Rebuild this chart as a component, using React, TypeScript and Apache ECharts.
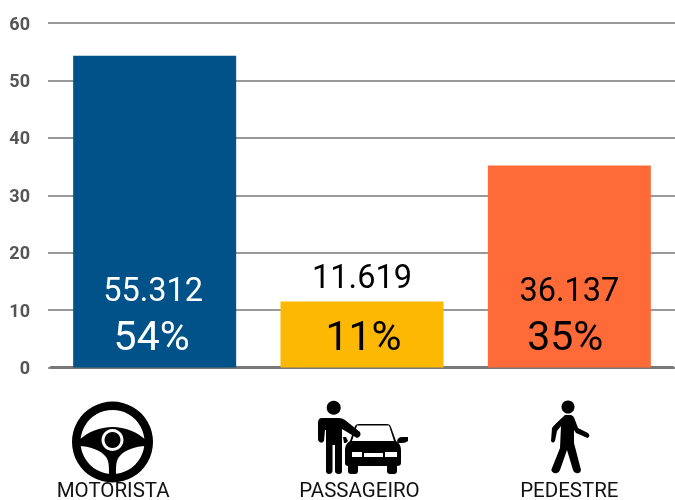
import React, { useEffect, useRef } from "react";
import * as echarts from "echarts";

const categories = ["MOTORISTA", "PASSAGEIRO", "PEDESTRE"];
const values = [54.3, 11.5, 35.2];
const counts = ["55.312", "11.619", "36.137"];
const percents = ["54%", "11%", "35%"];
const barColors = ["#005288", "#FCB802", "#FF6A39"];
const labelColors = ["#ffffff", "#000000", "#000000"];
const yTicks = { min: 0, max: 60, interval: 10 };

const FONT = "Roboto, sans-serif";

// per-bar label tweaks (the reference's texts are not all centred on their bars)
const countLineHeights = [39, 65, 39];
const countPadding = [[0, 3, 0, 0], [0, 0, 0, 0], [0, 0, 0, 0]];
const percentPadding = [[0, 6, 0, 0], [0, 0, 0, 3], [0, 8, 0, 0]];

const wheelHub =
  "M79 440 C88 432 100 427 112.5 427 C125 427 137 432 146 440 L146 446 C136 446 124 450 119 457 C116 461 116 466 116 474 L109 474 C109 466 109 461 106 457 C101 450 89 446 79 446 Z";
const passengerBody =
  "M322 418 L339 418 Q342 418 345 420 L360 432 Q362 436 357 438 L342 429 L342 471 Q342 474 339 474 Q335 474 335 471 L335 445 L332.5 445 L332.5 471 Q332 474 329 474 Q326 474 326 471 L326 430 L325 430 L324 441 Q322 444 319.5 442 Q318 441 318 439 L318 423 Q318 418 322 418 Z";
const carBody =
  "M355 426 Q356 424 359 424 L387 424 Q390 424 391 427 L396 441 Q401 444 401 450 L401 463 Q401 466 397 466 L397 471 Q397 474 394 474 L390 474 Q387 474 387 471 L387 466 L358 466 L358 471 Q358 474 355 474 L351 474 Q348 474 348 471 L348 466 Q345 466 345 463 L345 450 Q345 444 350 441 Z M357 425.5 L352 441 L394 441 L389 425.5 Z M352 452 L352 457 L362 457 L362 452 Z M364 453 L364 457 L383 457 L383 453 Z M385 452 L385 457 L397 457 L397 452 Z";
const carMirrorRight = "M397 441 Q398 437 402 437 L408 437 L408 441 Q406 443 402 443 L398 443 Z";
const carMirrorLeft = "M343 437 L346 437 L348 441 L346 443 L344 443 Z";
const pedestrianBody =
  "M565 415 L571 415 Q574 416 575 420 L578 428 L588 433 Q591 436 587.5 438 L576 433 L574 430 L574 443 L581 470 Q580 474 576 473 Q574 473 573 470 L567 450 L560 470 Q558 474 554 473 Q550 471 552 468 L560 448 L561 426 L557 431 L555 441 Q553 444 551 441 L552 428 Q553 426 565 415 Z";

const shapes: Record<string, string> = {
  wheelHub,
  passengerBody,
  carBody,
  carMirrorRight,
  carMirrorLeft,
  pedestrianBody,
};
Object.keys(shapes).forEach((k) => {
  echarts.graphic.registerShape(k, (echarts.graphic as any).extendPath(shapes[k], {}));
});

export default function App() {
  const ref = useRef<HTMLDivElement>(null);
  useEffect(() => {
    const chart = echarts.init(ref.current!, undefined, { renderer: "svg" });
    const icon = (type: string, style: any = { fill: "#000" }) => ({ type, x: 0, y: 0, style, silent: true });
    const catStyle = { color: "#111111", fontFamily: FONT, fontSize: 20.5, lineHeight: 18, letterSpacing: 0.3 };
    const stub = { show: true, lineStyle: { color: "#777777", width: 1.5 } };
    chart.setOption({
      animation: false,
      grid: { left: 51, right: 2, top: 23, bottom: 131.5 },
      xAxis: {
        type: "category",
        data: categories,
        axisLine: { show: true, lineStyle: { color: "#777777", width: 3 } },
        axisTick: { show: false },
        axisLabel: {
          margin: 113,
          lineHeight: 18,
          formatter: (v: string) => `{c${categories.indexOf(v)}|${v}}`,
          rich: {
            c0: { ...catStyle, padding: [0, 83, 0, 0] },
            c1: { ...catStyle, padding: [0, 5, 0, 0] },
            c2: { ...catStyle },
          },
        },
      },
      yAxis: [
        {
          type: "value",
          ...yTicks,
          axisLine: { show: false },
          axisTick: { ...stub, length: 3 },
          splitLine: { lineStyle: { color: "#777777", width: 1.5 } },
          axisLabel: {
            color: "#555555",
            fontFamily: FONT,
            fontWeight: "bold",
            fontSize: 18,
            margin: 21,
          },
        },
        {
          type: "value",
          position: "right",
          ...yTicks,
          axisLine: { show: false },
          axisTick: { ...stub, length: 2 },
          splitLine: { show: false },
          axisLabel: { show: false },
        },
      ],
      series: [
        {
          type: "bar",
          barWidth: 163,
          data: values.map((v, i) => ({
            value: v,
            itemStyle: { color: barColors[i] },
            label: {
              show: true,
              position: "insideBottom",
              distance: 6,
              formatter: `{c|${counts[i]}}\n{p|${percents[i]}}`,
              rich: {
                c: {
                  fontFamily: FONT,
                  fontSize: 32.5,
                  lineHeight: countLineHeights[i],
                  color: labelColors[i],
                  padding: countPadding[i],
                },
                p: {
                  fontFamily: FONT,
                  fontSize: 41,
                  lineHeight: 52,
                  color: labelColors[i],
                  padding: percentPadding[i],
                },
              },
            },
          })),
        },
      ],
      graphic: {
        elements: [
          { type: "ring", silent: true, shape: { cx: 112.5, cy: 442, r: 40.5, r0: 32 }, style: { fill: "#000" } },
          icon("wheelHub"),
          { type: "circle", silent: true, shape: { cx: 112.5, cy: 440, r: 11 }, style: { fill: "#fff" } },
          { type: "circle", silent: true, shape: { cx: 112.5, cy: 440, r: 8 }, style: { fill: "#000" } },
          { type: "circle", silent: true, shape: { cx: 333.7, cy: 407.7, r: 7 }, style: { fill: "#000" } },
          icon("passengerBody"),
          icon("carBody"),
          icon("carMirrorRight"),
          icon("carMirrorLeft"),
          { type: "circle", silent: true, shape: { cx: 568, cy: 407, r: 6.5 }, style: { fill: "#000" } },
          icon("pedestrianBody"),
        ],
      },
    });
    return () => chart.dispose();
  }, []);
  return <div ref={ref} style={{ position: "fixed", left: 0, top: 0, width: 675, height: 500 }} />;
}
